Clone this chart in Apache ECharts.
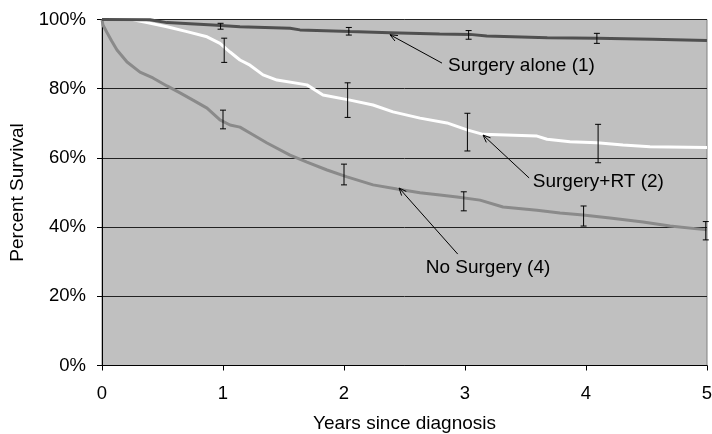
<!DOCTYPE html>
<html><head><meta charset="utf-8">
<script src="https://cdn.jsdelivr.net/npm/echarts@6/dist/echarts.min.js"></script>
<style>html,body{margin:0;padding:0;background:#fff}#c{width:712px;height:434px}</style>
</head><body><div id="c"></div>
<script>
// Kaplan-Meier style survival curves: [years, percent]
var surgeryAlone = [[0,100],[0.397,99.9],[0.537,99.1],[0.917,98.4],[1.14,97.9],[1.554,97.5],[1.636,97.0],[2.05,96.5],[2.38,96.2],[2.79,95.8],[3.04,95.7],[3.18,95.2],[3.68,94.7],[4.09,94.6],[4.55,94.3],[5.0,93.9]];
var surgeryRT = [[0,100],[0.256,99.9],[0.372,99.1],[0.537,97.9],[0.702,96.5],[0.868,95.0],[0.975,93.1],[1.058,90.6],[1.14,88.3],[1.223,86.8],[1.331,84.0],[1.446,82.5],[1.694,81.1],[1.826,78.2],[2.05,76.7],[2.24,75.3],[2.405,73.3],[2.628,71.5],[2.851,70.1],[3.017,68.1],[3.149,66.8],[3.595,66.3],[3.678,65.4],[3.868,64.7],[4.091,64.4],[4.306,63.7],[4.529,63.2],[5.0,63.0]];
var noSurgery = [[0,100],[0.008,98.4],[0.04,96.3],[0.08,93.8],[0.124,91.2],[0.207,87.7],[0.314,84.8],[0.421,83.1],[0.537,80.8],[0.645,78.8],[0.752,76.7],[0.868,74.4],[0.975,71.0],[1.058,69.5],[1.14,68.9],[1.223,67.2],[1.364,64.3],[1.554,60.8],[1.694,58.8],[1.86,56.5],[2.025,54.5],[2.24,52.2],[2.438,51.0],[2.628,49.9],[2.793,49.3],[2.934,48.7],[3.124,47.8],[3.314,45.8],[3.595,44.9],[3.785,44.1],[3.975,43.5],[4.198,42.6],[4.471,41.5],[4.694,40.3],[5.0,39.2]];
// Error bars: [years, low, high]
var errAlone = [[0.98,97.2,98.9],[2.04,95.5,97.7],[3.03,94.3,96.8],[4.09,93.1,96.0]];
var errRT = [[1.01,87.6,94.6],[2.03,71.7,81.7],[3.02,62.0,72.9],[4.10,58.6,69.7]];
var errNo = [[1.0,68.4,73.8],[2.0,52.2,58.2],[2.99,44.7,50.2],[3.98,40.3,46.1],[4.99,36.3,41.6]];
// Annotations: label, text anchor [yr,pct], arrow tail [yr,pct], arrow tip [yr,pct], text align
var annLabels = ['Surgery alone (1)','Surgery+RT (2)','No Surgery (4)'];
var annText = [[2.86,86.5],[3.56,53.0],[3.19,28.2]];
var annTail = [[2.81,87.4],[3.53,54.2],[2.94,32.2]];
var annTip = [[2.38,95.6],[3.149,66.6],[2.455,51.3]];
var annAlign = ['left','left','center'];
var xTicks = [0,1,2,3,4,5];
var yTicks = [0,20,40,60,80,100];

var FONT = 'Liberation Sans, Arial, sans-serif';
var chart = echarts.init(document.getElementById('c'), null, {renderer:'canvas'});

function errSeries(data){
  return {
    type:'custom', data:data, z:5, silent:true,
    renderItem:function(params, api){
      var x = api.value(0);
      var lo = api.coord([x, api.value(1)]);
      var hi = api.coord([x, api.value(2)]);
      var w = 3;
      var s = {stroke:'#000', lineWidth:1};
      return {type:'group', children:[
        {type:'line', shape:{x1:lo[0],y1:lo[1],x2:hi[0],y2:hi[1]}, style:s},
        {type:'line', shape:{x1:lo[0]-w,y1:lo[1],x2:lo[0]+w,y2:lo[1]}, style:s},
        {type:'line', shape:{x1:hi[0]-w,y1:hi[1],x2:hi[0]+w,y2:hi[1]}, style:s}
      ]};
    }
  };
}

var option = {
  animation:false,
  textStyle:{fontFamily:FONT},
  grid:{left:102, right:5, top:19.5, bottom:68.5, containLabel:false, outerBoundsMode:'none', show:true, backgroundColor:'#c0c0c0', borderColor:'#808080', borderWidth:1},
  xAxis:{
    type:'value', min:xTicks[0], max:xTicks[xTicks.length-1], interval:1,
    name:'Years since diagnosis', nameLocation:'middle', nameGap:49,
    nameTextStyle:{fontSize:19, color:'#000', fontFamily:FONT},
    axisLine:{show:true, onZero:false, lineStyle:{color:'#000', width:1}},
    axisTick:{show:true, length:5, lineStyle:{color:'#000'}},
    axisLabel:{fontSize:18.5, color:'#000', margin:19, fontFamily:FONT},
    splitLine:{show:false}
  },
  yAxis:{
    type:'value', min:yTicks[0], max:yTicks[yTicks.length-1], interval:20,
    name:'Percent Survival', nameLocation:'middle', nameGap:75, nameRotate:90,
    nameTextStyle:{fontSize:19, color:'#000', fontFamily:FONT},
    axisLine:{show:true, lineStyle:{color:'#000', width:1}},
    axisTick:{show:true, length:5, lineStyle:{color:'#000'}},
    axisLabel:{fontSize:18.5, color:'#000', margin:16, formatter:'{value}%', fontFamily:FONT},
    splitLine:{show:true, lineStyle:{color:'#222', width:1}}
  },
  series:[
    {type:'line', data:noSurgery, showSymbol:false, lineStyle:{color:'#8a8a8a', width:3}, z:2},
    {type:'line', data:surgeryRT, showSymbol:false, lineStyle:{color:'#ffffff', width:3}, z:3},
    {type:'line', data:surgeryAlone, showSymbol:false, lineStyle:{color:'#505050', width:3}, z:4},
    errSeries(errAlone), errSeries(errRT), errSeries(errNo)
  ]
};
chart.setOption(option);

var g = [];
for (var i=0;i<annLabels.length;i++){
  var t = chart.convertToPixel({gridIndex:0}, annText[i]);
  var a = chart.convertToPixel({gridIndex:0}, annTail[i]);
  var b = chart.convertToPixel({gridIndex:0}, annTip[i]);
  var ang = Math.atan2(a[1]-b[1], a[0]-b[0]);
  var L = 8, sp = 0.4;
  g.push({type:'text', x:t[0], y:t[1], z:20, style:{text:annLabels[i], fontSize:19, fontFamily:FONT, fill:'#000', align:annAlign[i], verticalAlign:'middle'}});
  g.push({type:'line', z:20, shape:{x1:a[0],y1:a[1],x2:b[0],y2:b[1]}, style:{stroke:'#000', lineWidth:1}});
  g.push({type:'polyline', z:20, shape:{points:[[b[0]+L*Math.cos(ang+sp), b[1]+L*Math.sin(ang+sp)],[b[0],b[1]],[b[0]+L*Math.cos(ang-sp), b[1]+L*Math.sin(ang-sp)]]}, style:{stroke:'#000', lineWidth:1, fill:null}});
}
chart.setOption({graphic:g});
</script></body></html>
